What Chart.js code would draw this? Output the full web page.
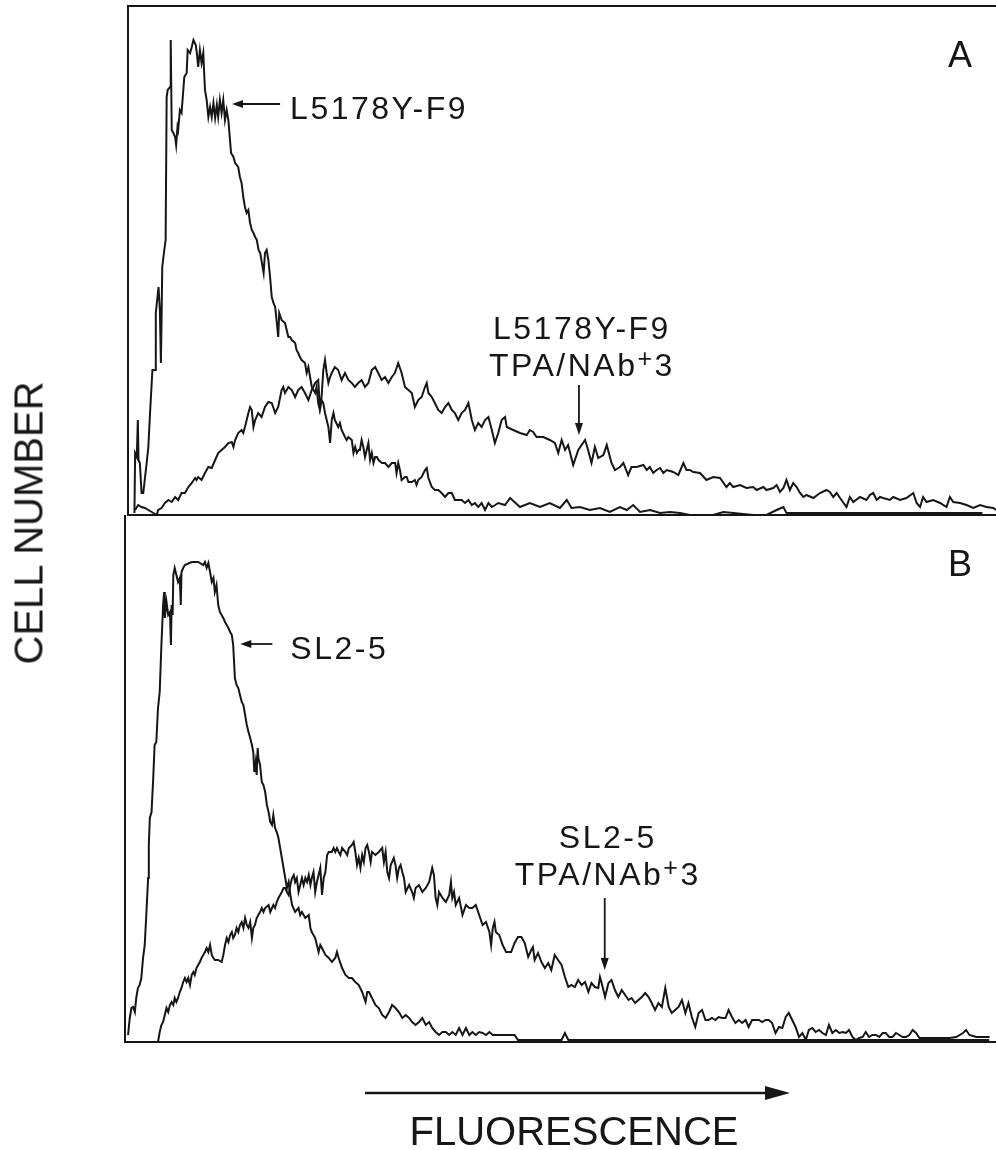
<!doctype html>
<html lang="en">
<head>
<meta charset="utf-8">
<title>Cell number vs fluorescence</title>
<script src="https://cdn.jsdelivr.net/npm/chart.js@4.4.0/dist/chart.umd.min.js"></script>
<style>
  body { margin: 0; background: #fff; }
  #page { position: relative; width: 996px; height: 1150px; overflow: hidden; background: #fff; }
  #chartA { position: absolute; left: 0; top: 0; }
  #chartB { position: absolute; left: 0; top: 515px; }
  #ytitle {
    position: absolute; left: 29px; top: 523px;
    transform: translate(-50%, -50%) rotate(-90deg);
    font: 40px "Liberation Sans", Arial, sans-serif;
    color: #161616; white-space: nowrap;
  }
</style>
</head>
<body>
<div id="page">
  <canvas id="chartA" width="996" height="518"></canvas>
  <canvas id="chartB" width="996" height="635"></canvas>
  <div id="ytitle">CELL NUMBER</div>
</div>

<script>
// fluorescence channel (0-256) and cell number

// panel A, L5178Y-F9
const a1Channel = [
  1.9, 2.1, 2.6, 2.9, 3.1, 3.5, 4.0, 4.5, 5.5, 6.0,
  6.5, 7.2, 8.0, 8.2, 9.0, 9.4, 9.7, 9.9, 10.1, 10.7,
  11.1, 11.4, 11.7, 12.4, 12.6, 12.9, 13.4, 13.9, 14.2, 14.6,
  14.8, 15.3, 15.8, 16.6, 17.3, 17.6, 18.3, 18.8, 19.3, 20.0,
  20.3, 20.7, 21.2, 21.7, 22.2, 22.7, 23.2, 23.7, 24.2, 24.7,
  25.2, 25.7, 26.2, 26.6, 27.1, 27.6, 28.1, 28.6, 29.1, 29.6,
  30.4, 31.1, 31.6, 32.5, 33.0, 33.5, 34.0, 34.5, 35.0, 35.5,
  36.0, 36.5, 37.0, 37.5, 38.0, 38.5, 39.0, 39.5, 40.0, 40.4,
  40.9, 41.4, 41.9, 42.4, 42.9, 43.4, 43.9, 44.3, 44.6, 45.3,
  46.3, 46.8, 47.3, 47.8, 48.3, 49.3, 49.7, 50.2, 50.7, 51.2,
  52.2, 52.7, 53.2, 53.7, 54.2, 55.2, 55.6, 56.1, 56.6, 57.1,
  57.6, 58.1, 58.6, 59.1, 59.6, 60.1, 60.6, 61.0, 62.0, 62.5,
  63.0, 64.0, 64.5, 65.0, 66.0, 66.5, 67.0, 67.5, 68.0, 68.4,
  68.9, 69.4, 69.9, 70.9, 71.4, 71.9, 72.4, 72.9, 73.4, 73.9,
  74.9, 75.8, 76.8, 77.8, 78.8, 79.2, 79.7, 80.2, 80.7, 81.7,
  82.2, 82.7, 83.7, 84.6, 85.1, 85.6, 86.6, 87.6, 88.1, 88.6,
  89.6, 90.5, 91.5, 92.5, 93.5, 94.5, 95.5, 96.4, 97.4, 98.4,
  99.4, 100.4, 101.4, 102.3, 103.3, 104.3, 105.3, 106.3, 107.3, 108.3,
  109.2, 111.2, 112.7, 115.6, 118.5, 121.5, 124.4, 127.4, 129.4, 130.8,
  133.3, 136.2, 139.2, 142.1, 145.1, 147.1, 149.0, 151.0, 154.0, 156.9,
  159.8, 162.8, 165.7, 172.6, 175.6, 178.5, 184.4, 188.3, 191.3, 193.3,
  194.2, 220, 252
];
const a1Count = [
  2, 62, 58, 95, 55, 52, 22, 22, 52, 68,
  102, 145, 145, 202, 228, 205, 152, 195, 248, 265,
  275, 418, 425, 428, 475, 385, 382, 378, 370, 388,
  385, 405, 402, 438, 442, 465, 462, 468, 475, 470,
  462, 448, 465, 452, 462, 425, 415, 398, 408, 398,
  412, 397, 410, 398, 415, 402, 415, 395, 405, 395,
  362, 358, 352, 348, 338, 332, 318, 308, 302, 305,
  292, 285, 282, 278, 275, 265, 262, 252, 242, 262,
  265, 255, 238, 218, 212, 208, 192, 178, 202, 195,
  192, 185, 178, 178, 175, 172, 165, 162, 158, 155,
  152, 142, 148, 138, 128, 122, 128, 112, 105, 115,
  112, 102, 95, 88, 72, 95, 102, 95, 88, 92,
  85, 78, 75, 78, 75, 62, 68, 62, 65, 65,
  75, 68, 58, 72, 55, 62, 52, 58, 58, 55,
  52, 52, 48, 52, 52, 42, 52, 45, 35, 38,
  38, 33, 33, 35, 30, 35, 38, 45, 47, 37,
  28, 25, 25, 22, 18, 22, 22, 15, 15, 15,
  12, 15, 10, 12, 8, 12, 5, 12, 8, 10,
  12, 10, 17, 8, 12, 8, 12, 7, 15, 7,
  8, 5, 7, 3, 8, 5, 10, 3, 5, 2,
  3, 2, 0, 0, 3, 2, 0, 0, 5, 8,
  2, 2, 2
];

// panel A, L5178Y-F9 TPA/NAb+3
const a2Channel = [
  2.1, 3.0, 4.0, 5.0, 6.0, 7.0, 8.5, 8.9, 9.9, 10.9,
  11.9, 12.9, 13.9, 14.8, 15.8, 16.8, 17.8, 18.8, 19.8, 20.2,
  20.7, 21.7, 22.7, 23.7, 24.7, 25.7, 26.6, 27.6, 28.6, 29.6,
  30.6, 31.1, 31.6, 32.5, 33.5, 34.0, 34.5, 35.5, 36.0, 36.5,
  37.0, 37.5, 38.4, 39.4, 40.4, 41.4, 42.4, 43.4, 44.3, 45.3,
  45.8, 46.3, 47.3, 48.3, 49.3, 50.2, 51.2, 52.2, 53.2, 54.2,
  55.2, 56.1, 56.6, 57.1, 57.6, 58.1, 58.6, 59.1, 59.6, 60.1,
  61.0, 62.0, 63.0, 64.0, 65.0, 66.0, 66.9, 67.9, 68.9, 69.9,
  70.9, 71.9, 72.9, 73.8, 74.8, 75.8, 76.8, 77.8, 78.7, 79.7,
  80.7, 81.7, 82.7, 83.7, 84.6, 85.6, 86.6, 87.6, 88.1, 88.6,
  89.6, 90.5, 91.5, 92.5, 93.5, 94.5, 95.5, 96.4, 97.4, 98.4,
  99.4, 100.4, 101.4, 102.3, 103.3, 104.3, 105.3, 106.3, 107.3, 108.2,
  109.2, 110.2, 111.2, 111.7, 113.6, 115.6, 117.6, 118.5, 119.5, 120.5,
  122.5, 124.4, 125.9, 126.9, 127.9, 128.9, 129.8, 131.3, 132.8, 134.8,
  135.7, 136.7, 137.7, 138.7, 140.2, 141.2, 142.6, 143.6, 145.1, 146.1,
  147.5, 148.5, 150.0, 152.0, 153.0, 153.9, 154.9, 155.9, 156.9, 157.9,
  158.9, 160.8, 162.3, 163.8, 164.7, 165.7, 166.7, 168.7, 170.6, 172.6,
  174.6, 176.5, 177.5, 178.5, 180.5, 182.4, 184.4, 185.4, 187.4, 188.3,
  190.3, 191.3, 192.3, 193.3, 194.2, 195.2, 196.2, 197.2, 198.2, 199.2,
  200.1, 202.1, 204.1, 206.0, 207.0, 208.0, 209.0, 210.0, 211.9, 212.9,
  213.9, 215.9, 217.8, 218.8, 219.8, 220.8, 221.8, 222.7, 224.7, 225.7,
  227.7, 229.6, 231.6, 232.6, 233.6, 234.5, 235.5, 237.5, 239.5, 241.4,
  242.4, 243.4, 245.4, 247.3, 249.3, 251.3, 253.2, 255.2, 256
];
const a2Count = [
  5, 10, 8, 7, 5, 3, 0, 5, 7, 12,
  15, 13, 18, 15, 22, 22, 28, 32, 37, 35,
  38, 35, 42, 48, 47, 55, 62, 65, 68, 72,
  73, 68, 75, 82, 85, 82, 88, 102, 108, 105,
  88, 95, 102, 98, 108, 113, 112, 102, 108, 125,
  128, 122, 128, 125, 118, 125, 128, 122, 115, 125,
  132, 135, 108, 118, 145, 155, 142, 132, 138, 142,
  148, 145, 135, 142, 135, 132, 128, 132, 135, 128,
  132, 145, 148, 142, 135, 138, 132, 138, 142, 152,
  142, 128, 125, 122, 108, 115, 118, 128, 132, 122,
  118, 112, 105, 102, 108, 112, 105, 102, 95, 102,
  105, 112, 95, 85, 92, 88, 95, 98, 85, 72,
  82, 95, 98, 88, 85, 82, 80, 85, 83, 78,
  78, 75, 72, 62, 75, 65, 70, 50, 65, 75,
  65, 52, 68, 57, 60, 70, 52, 45, 48, 52,
  40, 48, 48, 50, 45, 48, 42, 45, 47, 42,
  45, 43, 40, 52, 45, 45, 43, 42, 35, 38,
  37, 28, 32, 28, 30, 27, 28, 25, 28, 25,
  27, 30, 23, 27, 35, 25, 32, 28, 22, 18,
  20, 17, 22, 25, 23, 18, 22, 17, 8, 18,
  13, 18, 15, 20, 22, 15, 18, 17, 15, 18,
  15, 17, 22, 12, 8, 18, 13, 15, 12, 8,
  18, 13, 12, 10, 7, 10, 8, 7, 5
];

// panel B, SL2-5
const b1Channel = [
  0.9, 1.4, 1.9, 2.4, 2.9, 3.3, 3.8, 4.3, 4.8, 5.3,
  5.8, 6.3, 6.8, 7.0, 7.3, 7.8, 8.3, 8.7, 9.2, 9.7,
  10.2, 10.7, 11.2, 11.5, 11.7, 12.2, 12.7, 13.2, 13.5, 13.7,
  14.0, 14.2, 14.6, 15.1, 15.6, 16.1, 16.4, 16.6, 17.1, 17.6,
  19.6, 21.5, 23.0, 23.5, 24.0, 24.5, 25.0, 25.5, 26.0, 26.4,
  26.9, 27.4, 27.9, 28.4, 28.9, 29.4, 29.9, 30.4, 30.9, 31.4,
  31.8, 32.3, 32.8, 33.3, 33.8, 34.3, 34.8, 35.3, 35.8, 36.3,
  36.8, 37.3, 37.7, 38.0, 38.4, 38.7, 39.0, 39.2, 39.7, 40.2,
  40.7, 41.2, 41.7, 42.2, 42.7, 43.2, 43.6, 44.1, 44.6, 45.1,
  45.6, 46.1, 46.6, 47.1, 47.6, 48.1, 48.6, 49.1, 50.0, 51.0,
  51.5, 52.0, 53.0, 54.0, 54.5, 54.9, 55.9, 56.9, 57.4, 57.9,
  58.9, 59.9, 60.8, 61.8, 62.3, 62.8, 63.8, 64.8, 65.8, 66.7,
  67.7, 68.7, 69.7, 70.7, 71.2, 71.7, 72.6, 73.6, 74.6, 75.6,
  76.6, 77.6, 78.5, 79.5, 80.5, 81.5, 82.5, 83.5, 84.4, 85.4,
  86.4, 87.4, 88.4, 89.4, 90.3, 91.3, 92.3, 93.3, 94.3, 95.3,
  96.2, 97.2, 98.2, 99.2, 100.2, 101.2, 102.1, 103.1, 104.1, 105.1,
  106.1, 107.1, 108.1, 110.0, 112.0, 114.5, 115.5, 128.3, 129.3, 130.3,
  254
];
const b1Count = [
  7, 24, 34, 35, 30, 44, 54, 57, 64, 84,
  97, 130, 164, 197, 224, 230, 264, 297, 300, 334,
  350, 397, 437, 450, 424, 440, 427, 430, 397, 437,
  427, 467, 474, 467, 460, 464, 437, 470, 474, 477,
  480, 480, 477, 480, 474, 479, 470, 460, 464, 450,
  457, 437, 430, 427, 424, 420, 417, 414, 410, 407,
  397, 364, 357, 354, 347, 340, 337, 327, 317, 310,
  304, 297, 290, 270, 280, 267, 294, 284, 277, 260,
  257, 250, 237, 230, 220, 217, 227, 214, 210, 204,
  194, 184, 174, 164, 154, 160, 147, 137, 130, 134,
  127, 130, 124, 127, 114, 110, 104, 90, 97, 94,
  87, 84, 80, 84, 90, 84, 74, 67, 64, 64,
  60, 57, 50, 40, 50, 50, 44, 37, 34, 27,
  24, 30, 37, 34, 30, 24, 27, 24, 20, 17,
  20, 24, 17, 20, 14, 10, 7, 10, 10, 7,
  10, 7, 14, 7, 14, 7, 10, 7, 10, 9,
  7, 10, 7, 7, 7, 7, 2, 2, 9, 2,
  2
];

// panel B, SL2-5 TPA/NAb+3
const b2Channel = [
  9.7, 10.2, 10.7, 11.2, 11.7, 12.2, 12.7, 13.2, 13.7, 14.2,
  14.6, 15.1, 15.6, 16.1, 16.6, 17.1, 17.6, 18.1, 18.6, 19.1,
  19.6, 20.1, 20.5, 21.0, 21.5, 22.0, 22.5, 23.0, 23.5, 24.0,
  24.5, 25.0, 25.5, 26.0, 26.4, 27.4, 28.4, 28.9, 29.4, 29.9,
  30.4, 30.9, 31.4, 31.8, 32.3, 32.8, 33.3, 33.8, 34.3, 34.8,
  35.3, 35.8, 36.3, 36.8, 37.3, 37.7, 38.2, 38.7, 39.2, 39.7,
  40.2, 40.7, 41.2, 42.2, 42.7, 43.2, 43.6, 44.1, 44.6, 45.1,
  45.6, 46.1, 46.6, 47.1, 47.6, 48.1, 48.6, 49.1, 49.6, 50.0,
  50.5, 51.0, 51.5, 52.0, 52.5, 53.0, 53.5, 54.0, 54.5, 54.9,
  55.4, 55.9, 56.4, 56.9, 57.4, 57.9, 58.4, 58.9, 59.4, 59.9,
  60.8, 61.3, 61.8, 62.3, 62.8, 63.3, 63.8, 64.8, 65.3, 65.8,
  66.7, 67.2, 67.7, 68.2, 68.7, 69.2, 69.7, 70.2, 70.7, 71.2,
  71.7, 72.2, 72.6, 73.6, 74.6, 75.6, 76.1, 76.6, 77.1, 77.6,
  78.1, 78.5, 79.0, 79.5, 80.0, 80.5, 81.0, 81.5, 82.0, 82.5,
  83.5, 84.4, 84.9, 85.4, 86.4, 87.4, 88.4, 89.4, 90.3, 90.8,
  91.3, 91.8, 92.3, 93.3, 94.3, 95.3, 95.8, 96.2, 96.7, 97.2,
  98.2, 99.2, 100.2, 101.2, 102.1, 103.1, 104.1, 105.1, 106.1, 107.1,
  107.6, 108.1, 108.6, 109.0, 110.0, 111.0, 112.0, 112.6, 113.5, 114.5,
  115.5, 116.5, 117.5, 118.5, 119.4, 119.9, 120.4, 121.4, 122.4, 123.4,
  124.4, 125.3, 126.3, 127.3, 128.3, 129.3, 130.3, 131.2, 132.2, 133.2,
  134.2, 135.2, 136.2, 137.1, 138.1, 139.1, 139.6, 140.1, 141.1, 142.1,
  143.0, 144.0, 145.0, 146.0, 147.0, 148.0, 148.9, 149.9, 150.9, 151.9,
  152.9, 153.9, 154.8, 155.8, 156.8, 157.8, 158.8, 159.8, 160.7, 161.7,
  162.7, 163.7, 164.7, 165.6, 166.6, 167.6, 168.6, 169.6, 170.6, 171.5,
  172.5, 173.5, 174.5, 175.5, 176.5, 177.4, 178.4, 179.4, 180.4, 181.4,
  182.4, 183.3, 184.3, 185.3, 186.3, 187.3, 188.3, 189.2, 190.2, 191.2,
  192.2, 193.2, 194.2, 195.1, 196.1, 197.1, 198.1, 199.1, 200.1, 201.0,
  202.0, 203.0, 204.0, 205.0, 206.0, 206.9, 207.9, 208.9, 209.9, 210.9,
  211.9, 212.8, 213.8, 214.8, 215.8, 216.8, 217.7, 218.7, 219.7, 220.7,
  221.7, 222.7, 223.6, 224.6, 225.6, 226.6, 227.6, 228.6, 229.5, 230.5,
  231.5, 232.5, 233.5, 234.5, 238.4, 242.3, 244.3, 246.3, 247.2, 248.2,
  250.2, 254.1
];
const b2Count = [
  0, 10, 17, 20, 27, 34, 30, 37, 40, 37,
  44, 40, 44, 50, 54, 60, 64, 60, 64, 57,
  67, 70, 67, 74, 77, 80, 84, 87, 90, 94,
  90, 97, 87, 84, 82, 82, 80, 87, 97, 104,
  100, 107, 110, 104, 107, 114, 110, 117, 120, 114,
  124, 117, 114, 120, 104, 114, 117, 124, 127, 130,
  134, 130, 134, 137, 130, 134, 137, 134, 140, 144,
  147, 150, 154, 154, 150, 147, 157, 164, 167, 160,
  164, 150, 157, 164, 157, 164, 160, 167, 157, 164,
  170, 150, 160, 167, 174, 147, 164, 170, 187, 190,
  190, 194, 190, 194, 190, 187, 194, 190, 187, 194,
  197, 200, 190, 177, 184, 174, 187, 180, 194, 197,
  190, 180, 190, 187, 190, 194, 180, 190, 170, 164,
  177, 180, 184, 177, 164, 174, 177, 170, 164, 150,
  157, 150, 144, 154, 157, 150, 154, 160, 174, 167,
  144, 137, 150, 144, 140, 147, 160, 144, 150, 137,
  144, 127, 137, 134, 134, 137, 127, 117, 120, 110,
  97, 114, 120, 110, 107, 97, 90, 90, 90, 99,
  105, 105, 99, 85, 92, 95, 82, 89, 80, 74,
  79, 72, 87, 82, 77, 65, 55, 57, 55, 62,
  57, 60, 50, 59, 55, 54, 65, 59, 45, 59,
  62, 52, 45, 52, 47, 42, 44, 39, 42, 45,
  49, 45, 39, 32, 39, 35, 54, 35, 29, 32,
  35, 42, 29, 39, 25, 15, 29, 32, 22, 22,
  24, 22, 25, 24, 24, 32, 25, 19, 22, 19,
  22, 15, 22, 22, 22, 20, 22, 22, 19, 9,
  15, 14, 25, 29, 22, 15, 5, 9, 2, 12,
  14, 10, 12, 9, 7, 17, 9, 12, 9, 10,
  9, 12, 5, 2, 4, 5, 10, 5, 7, 7,
  5, 9, 9, 5, 5, 9, 7, 5, 5, 7,
  12, 9, 4, 4, 4, 4, 5, 9, 12, 7,
  5, 5
];

const channelMax = 256;
const countMaxA = 509;
const countMaxB = 527;

const FONT = '"Liberation Sans", Arial, Helvetica, sans-serif';
const INK = '#161616';

function toPoints(ch, counts) {
  return ch.map((c, i) => ({ x: c, y: counts[i] }));
}

// text with ^superscript^ parts
function drawRich(ctx, text, x, y, align) {
  const parts = text.split('^');
  const widths = parts.map((p, i) => {
    ctx.font = (i % 2 ? '25px ' : '32px ') + FONT;
    return ctx.measureText(p).width;
  });
  const total = widths.reduce((a, b) => a + b, 0);
  let cx = align === 'center' ? x - total / 2 : x;
  ctx.textAlign = 'left';
  parts.forEach((p, i) => {
    ctx.font = (i % 2 ? '25px ' : '32px ') + FONT;
    ctx.fillText(p, cx, i % 2 ? y - 9 : y);
    cx += widths[i];
  });
}

function arrowHead(ctx, x, y, dir) {
  ctx.beginPath();
  if (dir === 'left') {
    ctx.moveTo(x, y); ctx.lineTo(x + 11, y - 4); ctx.lineTo(x + 11, y + 4);
  } else {
    ctx.moveTo(x, y); ctx.lineTo(x - 4, y - 12); ctx.lineTo(x + 4, y - 12);
  }
  ctx.closePath();
  ctx.fill();
}

// frame lines, panel letter, labels with arrows
const panelDecor = {
  id: 'panelDecor',
  afterDraw(chart, args, opts) {
    const ctx = chart.ctx;
    const { left, right, top, bottom } = chart.chartArea;
    const xs = chart.scales.x, ys = chart.scales.y;
    ctx.save();
    ctx.strokeStyle = INK;
    ctx.fillStyle = INK;
    ctx.lineWidth = 2;
    ctx.beginPath();
    if (opts.topLine) {
      ctx.moveTo(right, top);
      ctx.lineTo(left, top);
    } else {
      ctx.moveTo(left, top);
    }
    ctx.lineTo(left, bottom);
    ctx.lineTo(right, bottom);
    ctx.stroke();

    ctx.font = '36px ' + FONT;
    ctx.textAlign = 'center';
    ctx.fillText(opts.letter, right - 36, top + 61);

    ctx.letterSpacing = '2.5px';
    ctx.lineWidth = 1.8;
    opts.labels.forEach(l => {
      const x = xs.getPixelForValue(l.ch);
      const y = ys.getPixelForValue(l.count);
      ctx.beginPath();
      if (l.dir === 'left') {
        ctx.moveTo(x + 6, y);
        ctx.lineTo(x + l.len, y);
        ctx.stroke();
        arrowHead(ctx, x, y, 'left');
        drawRich(ctx, l.lines[0], x + l.len + l.gap, y + 15, 'left');
      } else {
        ctx.moveTo(x, y - l.len);
        ctx.lineTo(x, y - 6);
        ctx.stroke();
        arrowHead(ctx, x, y, 'down');
        let base = y - l.len - l.gap;
        for (let i = l.lines.length - 1; i >= 0; i--) {
          drawRich(ctx, l.lines[i], x + 3, base, 'center');
          base -= 37;
        }
      }
    });
    ctx.letterSpacing = '0px';

    if (opts.xTitle) {
      // fluorescence arrow and title under panel B
      const ay = bottom + 51;
      ctx.lineWidth = 2.5;
      ctx.beginPath();
      ctx.moveTo(left + 240, ay);
      ctx.lineTo(left + 645, ay);
      ctx.stroke();
      ctx.beginPath();
      ctx.moveTo(left + 665, ay);
      ctx.lineTo(left + 640, ay - 7);
      ctx.lineTo(left + 640, ay + 7);
      ctx.closePath();
      ctx.fill();
      ctx.font = '40px ' + FONT;
      ctx.textAlign = 'center';
      ctx.fillText(opts.xTitle, left + 449, bottom + 103);
    }
    ctx.restore();
  }
};

function panelConfig(seriesList, countMax, padding, decor) {
  return {
    type: 'line',
    data: {
      datasets: seriesList.map(s => ({
        label: s.label,
        data: toPoints(s.ch, s.counts),
        borderColor: INK,
        borderWidth: 2,
        pointRadius: 0,
        tension: 0,
        fill: false
      }))
    },
    options: {
      responsive: false,
      animation: false,
      layout: { padding: padding },
      scales: {
        x: { type: 'linear', min: 0, max: channelMax, display: false },
        y: { type: 'linear', min: 0, max: countMax, display: false }
      },
      plugins: {
        legend: { display: false },
        tooltip: { enabled: false },
        panelDecor: decor
      }
    },
    plugins: [panelDecor]
  };
}

const chartA = new Chart(document.getElementById('chartA'), panelConfig(
  [
    { label: 'L5178Y-F9', ch: a1Channel, counts: a1Count },
    { label: 'L5178Y-F9 TPA/NAb+3', ch: a2Channel, counts: a2Count }
  ],
  countMaxA,
  { left: 128, top: 6, right: 0, bottom: 3 },
  {
    letter: 'A',
    topLine: true,
    labels: [
      { dir: 'left', ch: 30.7, count: 411, len: 48, gap: 10, lines: ['L5178Y-F9'] },
      { dir: 'down', ch: 133, count: 80, len: 50, gap: 9, lines: ['L5178Y-F9', 'TPA/NAb^+^3'] }
    ]
  }
));

const chartB = new Chart(document.getElementById('chartB'), panelConfig(
  [
    { label: 'SL2-5', ch: b1Channel, counts: b1Count },
    { label: 'SL2-5 TPA/NAb+3', ch: b2Channel, counts: b2Count }
  ],
  countMaxB,
  { left: 125, top: 0, right: 0, bottom: 108 },
  {
    letter: 'B',
    topLine: false,
    xTitle: 'FLUORESCENCE',
    labels: [
      { dir: 'left', ch: 33.9, count: 398, len: 32, gap: 18, lines: ['SL2-5'] },
      { dir: 'down', ch: 141, count: 72, len: 72, gap: 13, lines: ['SL2-5', 'TPA/NAb^+^3'] }
    ]
  }
));
</script>
</body>
</html>
